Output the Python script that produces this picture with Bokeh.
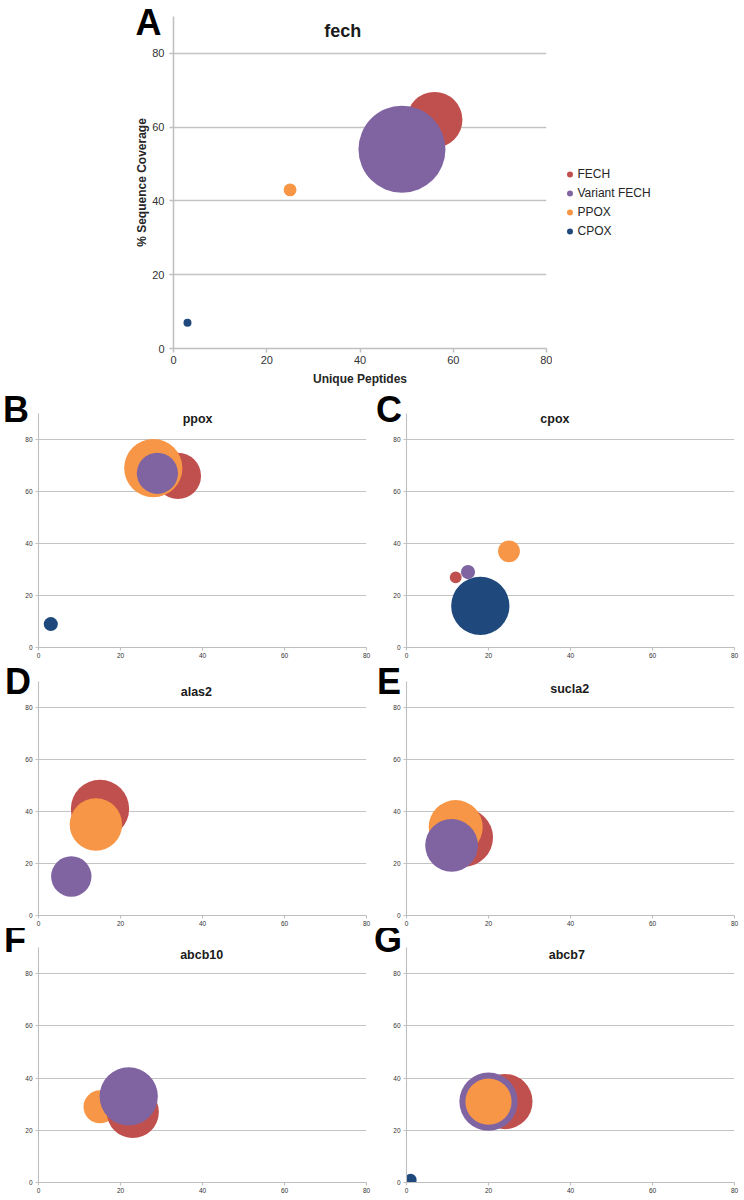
import math
from bokeh.plotting import figure
from bokeh.models import Range1d, FixedTicker, Label, Legend, LegendItem, Title
from bokeh.layouts import column, row
from bokeh.embed import file_html
from bokeh.resources import INLINE

# ---------------- data ----------------
series = ["FECH", "Variant FECH", "PPOX", "CPOX"]
colors = ["#C0504D", "#8064A2", "#F79646", "#1F497D"]
ticks = [0, 20, 40, 60, 80]

panel_names = ["fech", "ppox", "cpox", "alas2", "sucla2", "abcb10", "abcb7"]
panel_letters = ["A", "B", "C", "D", "E", "F", "G"]

# per panel: values in series order (FECH, Variant FECH, PPOX, CPOX); None = not detected
fech_peptides = [56, 49, 25, 3]
fech_coverage = [62, 54, 43, 7]
fech_bubble = [41, 100, 2.2, 0.85]

ppox_peptides = [34, 29, 28, 3]
ppox_coverage = [66, 67, 69, 9]
ppox_bubble = [63, 50, 100, 5.8]

cpox_peptides = [12, 15, 25, 18]
cpox_coverage = [27, 29, 37, 16]
cpox_bubble = [4.1, 5.9, 14, 100]

alas2_peptides = [15, 8, 14, None]
alas2_coverage = [41, 15, 35, None]
alas2_bubble = [100, 48, 81, None]

sucla2_peptides = [14, 11, 12, None]
sucla2_coverage = [30, 27, 34, None]
sucla2_bubble = [100, 82, 86, None]

abcb10_peptides = [23, 22, 15, None]
abcb10_coverage = [27, 33, 29, None]
abcb10_bubble = [80, 100, 32, None]

abcb7_peptides = [24, 20, 20, 1]
abcb7_coverage = [31, 31, 31, 1]
abcb7_bubble = [90, 100, 63, 4.3]

# drawing order (bottom -> top), as in the original
draw_order = {
    "fech": [0, 1, 2, 3],
    "ppox": [0, 2, 1, 3],
    "cpox": [3, 0, 1, 2],
    "alas2": [0, 2, 1, 3],
    "sucla2": [0, 2, 1, 3],
    "abcb10": [2, 0, 1, 3],
    "abcb7": [0, 1, 2, 3],
}

data = {
    "fech": (fech_peptides, fech_coverage, fech_bubble),
    "ppox": (ppox_peptides, ppox_coverage, ppox_bubble),
    "cpox": (cpox_peptides, cpox_coverage, cpox_bubble),
    "alas2": (alas2_peptides, alas2_coverage, alas2_bubble),
    "sucla2": (sucla2_peptides, sucla2_coverage, sucla2_bubble),
    "abcb10": (abcb10_peptides, abcb10_coverage, abcb10_bubble),
    "abcb7": (abcb7_peptides, abcb7_coverage, abcb7_bubble),
}

# title positions (data units)
title_pos = {
    "fech": (36.3, 86.0),
    "ppox": (38.8, 88.0),
    "cpox": (36.2, 88.0),
    "alas2": (38.5, 86.0),
    "sucla2": (39.8, 87.0),
    "abcb10": (39.8, 87.0),
    "abcb7": (39.1, 87.0),
}

FONT = "Liberation Sans"
AXIS_GRAY = "#bfbfbf"
GRID_GRAY = "#c4c4c4"
TICK_TEXT = "#333333"


def make_panel(name, letter, width, height, bl, br, bt, bb, big=False,
               letter_offset=-32, letter_standoff=-33):
    xs, ys, sizes = data[name]
    p = figure(width=width, height=height,
               x_range=Range1d(0, 80), y_range=Range1d(0, 90),
               output_backend="svg", toolbar_location=None,
               min_border_left=bl, min_border_right=br,
               min_border_top=bt, min_border_bottom=bb)
    p.outline_line_color = None
    p.background_fill_color = "white"
    p.border_fill_color = "white"
    p.xgrid.visible = False
    p.ygrid.grid_line_color = GRID_GRAY
    p.ygrid.grid_line_width = 1.5 if big else 1.1
    for ax in (p.xaxis[0], p.yaxis[0]):
        ax.ticker = FixedTicker(ticks=ticks)
        ax.axis_line_color = AXIS_GRAY
        ax.axis_line_width = 1.5 if big else 1.1
        ax.major_tick_line_color = AXIS_GRAY
        ax.major_tick_line_width = 1.5 if big else 1.1
        ax.minor_tick_line_color = None
        ax.major_tick_in = 0
        ax.major_tick_out = 4 if big else 3
        ax.major_label_text_font = FONT
        ax.major_label_text_color = TICK_TEXT
        ax.major_label_text_font_size = "11px" if big else "6.5px"
    if big:
        p.xaxis.major_label_standoff = 3
        p.yaxis.major_label_standoff = 5
        p.xaxis.axis_label = "Unique Peptides"
        p.yaxis.axis_label = "% Sequence Coverage"
        for ax in (p.xaxis[0], p.yaxis[0]):
            ax.axis_label_text_font = FONT
            ax.axis_label_text_font_size = "12px"
            ax.axis_label_text_font_style = "bold"
            ax.axis_label_text_color = "#262626"
        p.xaxis.axis_label_standoff = 5
        p.yaxis.axis_label_standoff = 0
    else:
        p.xaxis.major_label_standoff = 2
        p.yaxis.major_label_standoff = 3

    fw = width - bl - br
    fh = height - bt - bb
    dmax = (0.262 if big else 0.248) * min(fw, fh)
    vmax = max(v for v in sizes if v is not None)

    renderers = {}
    for i in draw_order[name]:
        if xs[i] is None:
            continue
        d = dmax * math.sqrt(sizes[i] / vmax)
        r = p.scatter(x=[xs[i]], y=[ys[i]], size=d, marker="circle",
                      fill_color=colors[i], line_color=None)
        renderers[i] = r

    tx, ty = title_pos[name]
    p.add_layout(Label(x=tx, y=ty, text=name, text_align="center",
                       text_baseline="middle", text_font=FONT,
                       text_font_size="18px" if big else "12.5px",
                       text_font_style="bold", text_color="#1a1a1a"))
    # panel letter, drawn as a title that overlaps the top of the frame
    p.add_layout(Title(text=letter, align="left", vertical_align="bottom",
                       offset=letter_offset, standoff=letter_standoff,
                       text_font=FONT, text_font_size="36px",
                       text_font_style="bold", text_color="black"), "above")
    return p, renderers


# ---- panel A ----
pA, rA = make_panel("fech", "A", 552, 388, 173, 6, 16, 40, big=True,
                    letter_offset=-38, letter_standoff=-52)

# legend lives in its own small blank figure to the right of panel A
pL = figure(width=192, height=388, x_range=Range1d(0, 1), y_range=Range1d(0, 1),
            output_backend="svg", toolbar_location=None,
            x_axis_location=None, y_axis_location=None, min_border=0)
pL.outline_line_color = None
pL.xgrid.visible = False
pL.ygrid.visible = False
nan = float("nan")
leg_renderers = [pL.scatter(x=[nan], y=[nan], marker="circle", fill_color=c,
                            line_color=None) for c in colors]
legend = Legend(items=[LegendItem(label=s, renderers=[r])
                       for s, r in zip(series, leg_renderers)],
                location=(9.5, 108), margin=0, padding=0,
                glyph_width=15, glyph_height=18, label_height=18,
                spacing=1, label_standoff=1,
                label_text_font=FONT, label_text_font_size="12px",
                label_text_color="#262626",
                border_line_color=None, background_fill_alpha=0)
pL.add_layout(legend)

# ---- small panels ----
pB, _ = make_panel("ppox", "B", 372, 272, 38, 6, 25, 12,
                   letter_offset=-35.5, letter_standoff=-33)
pC, _ = make_panel("cpox", "C", 372, 272, 34, 10, 25, 12,
                   letter_offset=-30.5, letter_standoff=-33)
pD, _ = make_panel("alas2", "D", 372, 268, 38, 6, 21, 12,
                   letter_offset=-33.5, letter_standoff=-40)
pE, _ = make_panel("sucla2", "E", 372, 268, 34, 10, 21, 12,
                   letter_offset=-29.5, letter_standoff=-40)
pF, _ = make_panel("abcb10", "F", 372, 270, 38, 6, 19, 16,
                   letter_offset=-34.6, letter_standoff=-25)
pG, _ = make_panel("abcb7", "G", 372, 270, 34, 10, 19, 16,
                   letter_offset=-32.5, letter_standoff=-25)

layout = column(row(pA, pL), row(pB, pC), row(pD, pE), row(pF, pG))

open("out.html", "w").write(file_html(layout, INLINE))
